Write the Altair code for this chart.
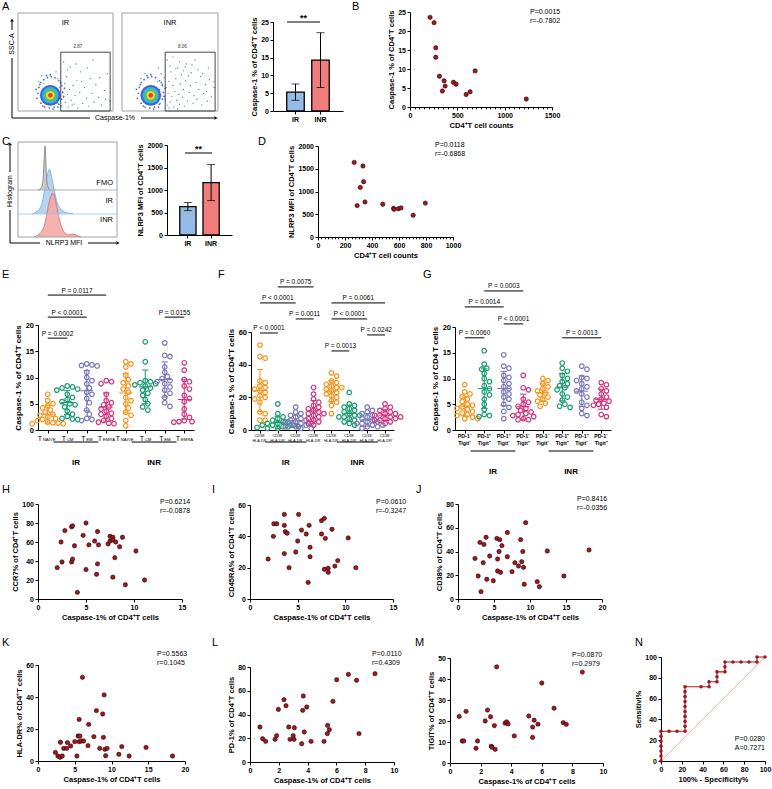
import altair as alt
import pandas as pd

W, H = 772, 789
FONT = "Liberation Sans"
BLK = "#000000"
DOT = "#A3181F"

# ---------------- values ----------------
groups = ["IR", "INR"]
bar_colors = ["#94BCE5", "#F07C7C"]
casp1_mean = [5.3, 14.3]
casp1_sd = [2.3, 7.7]
nlrp3_mean = [632, 1165]
nlrp3_sd = [90, 400]

b_cd4 = [212, 254, 272, 272, 311, 342, 360, 371, 459, 487, 593, 635, 688, 1228]
b_casp1 = [23.6, 22.2, 15.6, 13.1, 8.1, 4.2, 6.9, 5.5, 6.5, 6.0, 3.3, 4.0, 9.5, 2.1]

d_cd4 = [268, 333, 338, 313, 348, 290, 480, 560, 563, 595, 615, 705, 795]
d_nlrp3 = [1640, 1560, 1215, 1090, 770, 690, 720, 630, 610, 620, 640, 478, 745]

# flow cytometry events (box units 0-100)
ir_evt_x = [22, 25, 27, 40, 42, 44, 43, 41, 39, 46, 47, 48, 49, 50, 51, 52, 53, 54, 55, 56,
            58, 59, 60, 62, 63, 65, 66, 68, 70, 72, 74, 76, 78, 80, 82, 85, 88, 91, 94, 97,
            48, 52, 57, 61, 67, 73, 79, 86, 92]
ir_evt_y = [30, 36, 28, 40, 33, 24, 12, 8, 18, 5, 20, 14, 28, 9, 35, 17, 4, 22, 45, 11,
            26, 7, 16, 31, 3, 19, 40, 8, 24, 13, 5, 33, 18, 9, 27, 14, 6, 21, 38, 10,
            50, 42, 6, 48, 30, 44, 52, 34, 12]
inr_evt_x = [20, 24, 37, 39, 41, 43, 40, 42, 38, 44, 45, 46, 47, 48, 49, 50, 51, 52, 53, 54,
             55, 56, 57, 58, 59, 60, 61, 62, 63, 64, 65, 66, 67, 68, 70, 71, 72, 74, 75, 77,
             78, 80, 82, 83, 85, 87, 89, 91, 93, 96, 47, 50, 53, 56, 60, 64, 69, 73, 79, 84,
             90, 95, 49, 58, 66, 76, 88]
inr_evt_y = [33, 38, 30, 22, 38, 15, 8, 27, 44, 34, 12, 24, 6, 18, 30, 9, 40, 15, 26, 4,
             20, 33, 11, 44, 17, 7, 28, 37, 14, 22, 5, 31, 48, 10, 19, 26, 39, 8, 16, 29,
             12, 22, 35, 6, 18, 27, 10, 32, 15, 24, 52, 46, 55, 43, 50, 41, 36, 47, 42, 38,
             44, 30, 3, 2, 45, 52, 20]
# speckled rim of the density cloud (offsets from its centre, box units)
rim_dx = [-13, -12, -10, -7, -3, 1, 5, 9, 12, 13, 12, 9, 4, -1, -6, -10, -14, 14, -11, 11,
          -8, 8, 0, -15, 15, 3, -4]
rim_dy = [2, 8, 13, 16, 18, 19, 18, 15, 10, 3, -4, -9, -12, -13, -12, -8, -3, -1, 11, 13,
          -11, -12, 21, 6, 7, -14, 20]
blob_size = [430, 270, 150, 70, 22]
blob_color = ["#2F5BD2", "#35B6E6", "#5DC24B", "#F0E236", "#E8372A"]

# NLRP3 histogram (x = MFI position 0-99, h = relative count)
fmo_x = [20, 23, 24.5, 25.5, 26.3, 27, 27.8, 28.7, 30, 32]
fmo_h = [0, 2, 6, 18, 34, 44, 30, 10, 3, 0]
ir_h_x = [14, 18, 22, 25, 27, 29, 30.5, 31.5, 33, 35, 37, 39, 42, 45, 50, 55]
ir_h = [0, 2, 6, 15, 28, 38, 43, 45, 40, 30, 20, 12, 6, 3, 1, 0]
inr_h_x = [16, 20, 24, 27, 29, 31, 33, 34.5, 36, 38, 40, 42, 44, 46, 48, 51, 54, 57, 60, 63]
inr_h = [0, 2, 6, 14, 24, 34, 41, 44, 42, 34, 24, 15, 9, 5, 3, 2, 3, 2.5, 1, 0]

# E: T-cell subsets
e_subsets = ["NAIVE", "CM", "EM", "EMRA"]
e_values = [
    [6.8, 5.6, 5.0, 4.6, 4.2, 3.8, 3.4, 3.0, 2.8, 2.5, 2.2, 2.0, 1.8, 1.5, 1.3, 1.2, 1.2, 1.4],
    [8.4, 8.2, 8.0, 7.8, 7.6, 6.8, 6.2, 5.8, 5.4, 5.0, 4.8, 4.4, 3.6, 3.0, 2.6, 2.1, 2.0, 2.2],
    [12.6, 12.4, 12.2, 12.3, 11.0, 10.0, 9.4, 8.8, 8.0, 7.2, 6.8, 6.0, 5.2, 3.8, 3.0, 2.2, 1.8, 2.0],
    [9.4, 9.2, 8.8, 6.8, 5.6, 5.2, 4.8, 4.4, 4.0, 3.6, 3.2, 3.0, 2.6, 2.2, 1.8, 1.3, 1.2, 1.5],
    [13.0, 12.6, 12.0, 10.4, 9.6, 9.0, 8.4, 7.8, 7.2, 6.2, 5.6, 5.0, 4.2, 3.4, 2.8, 1.8, 0.8],
    [16.8, 13.0, 9.4, 9.2, 9.0, 8.8, 8.6, 8.4, 8.0, 7.6, 7.0, 6.6, 5.8, 5.0, 4.4, 3.8],
    [16.6, 14.2, 14.0, 12.0, 11.0, 10.2, 9.8, 9.4, 9.2, 8.8, 8.2, 7.6, 7.0, 6.2, 5.2, 4.5],
    [12.8, 11.4, 9.6, 9.2, 8.4, 7.8, 6.6, 6.0, 5.4, 4.0, 3.0, 2.4, 1.6, 1.5, 1.6, 1.8],
]
e_brackets = [(0, 1, "P = 0.0002", 17.5), (0, 2, "P < 0.0001", 21.5),
              (0, 3, "P = 0.0117", 25.7), (6, 7, "P = 0.0155", 21.5)]

# F: CD38 / HLA-DR subsets
f_subsets = ["CD38\u207a\nHLA-DR\u207a", "CD38\u207a\nHLA-DR\u207b",
             "CD38\u207b\nHLA-DR\u207a", "CD38\u207b\nHLA-DR\u207b"]
f_values = [
    [52, 45, 44, 30, 29, 27, 26, 25, 24, 23, 21, 20, 19, 17, 11, 10, 6, 6],
    [16, 10, 8, 7, 6, 5, 5, 4, 4, 3, 3, 3, 2, 2, 2, 1.5, 1, 1],
    [14, 11, 10, 9, 8, 7, 6, 6, 5, 5, 4, 4, 3, 3, 2, 2, 1, 1],
    [26, 22, 19, 17, 15, 14, 13, 12, 11, 10, 10, 9, 8, 7, 6, 5, 4, 3],
    [35, 33, 30, 29, 28, 27, 26, 26, 25, 24, 23, 22, 21, 20, 18, 17, 15, 10],
    [23, 16, 15, 14, 13, 12, 11, 10, 9, 9, 8, 8, 7, 6, 5, 4, 3],
    [14, 12, 11, 10, 9, 8, 7, 6, 5, 5, 4, 4, 3, 3, 2, 2, 1],
    [16, 14, 13, 12, 11, 10, 10, 9, 9, 8, 8, 7, 7, 6, 6, 5, 4],
]
f_brackets = [(0, 1, "P < 0.0001", 59.4), (0, 2, "P < 0.0001", 77.8),
              (1, 3, "P = 0.0075", 87.6), (2, 3, "P = 0.0011", 68.0),
              (4, 7, "P = 0.0061", 77.8), (4, 6, "P < 0.0001", 68.0),
              (6, 7, "P = 0.0242", 58.2), (4, 5, "P = 0.0013", 48.4)]

# G: PD-1 / TIGIT subsets
g_subsets = ["PD-1\u207b\nTigit\u207b", "PD-1\u207a\nTigit\u207a",
             "PD-1\u207a\nTigit\u207b", "PD-1\u207b\nTigit\u207a"]
g_values = [
    [8.8, 7.4, 7.0, 6.5, 6.0, 5.5, 5.0, 4.8, 4.5, 4.2, 4.0, 3.6, 3.3, 3.0, 2.8, 2.5, 2.2, 2.2],
    [15.4, 12.8, 12.0, 11.8, 11.0, 10.0, 9.4, 8.6, 8.0, 7.4, 6.8, 6.0, 5.0, 4.0, 3.0, 2.8, 2.6],
    [14.6, 12.4, 12.0, 10.6, 10.2, 9.6, 9.0, 8.4, 8.0, 7.4, 7.0, 6.4, 6.0, 5.0, 4.4, 3.6, 2.2],
    [10.6, 8.2, 7.8, 6.0, 5.4, 5.0, 4.6, 4.2, 3.8, 3.5, 3.2, 3.0, 2.8, 2.6, 2.2, 2.0, 2.0],
    [10.0, 9.6, 9.0, 8.4, 8.0, 7.6, 7.2, 6.8, 6.4, 6.0, 5.6, 5.2, 4.6],
    [13.0, 12.0, 11.4, 10.6, 10.0, 9.4, 9.0, 8.6, 8.2, 7.8, 7.0, 6.4, 5.8, 5.0, 4.6, 4.4],
    [12.4, 11.8, 10.2, 10.0, 9.6, 9.0, 8.4, 8.0, 7.6, 7.0, 6.4, 5.4, 4.8, 4.2, 3.2, 2.8],
    [9.2, 8.8, 8.0, 7.6, 7.0, 6.4, 6.0, 5.8, 5.6, 5.2, 5.0, 4.8, 4.4, 3.0, 2.6],
]
g_brackets = [(0, 1, "P = 0.0060", 17.9), (0, 2, "P = 0.0014", 23.9),
              (1, 3, "P = 0.0003", 27.0), (2, 3, "P < 0.0001", 20.6),
              (5, 7, "P = 0.0013", 17.9)]
subset_colors = ["#F7941D", "#1B9B6F", "#7A77B9", "#D1357E"] * 2

# H-M correlations
h_x = [2.0, 2.4, 2.5, 2.8, 3.5, 3.6, 3.5, 3.6, 3.8, 4.1, 4.7, 5.0, 5.0, 5.3, 5.9, 6.2, 6.3, 6.2,
       6.1, 7.3, 7.5, 7.5, 7.8, 7.8, 8.1, 8.0, 7.8, 8.5, 8.8, 9.1, 10.2, 11.1]
h_y = [33, 60, 39, 72, 76, 77, 39, 42, 56, 7, 67, 80, 31, 57, 61, 71, 57, 37,
       26, 58, 66, 61, 65, 62, 60, 43.5, 23, 55, 65, 15, 50.5, 20]
i_x = [1.9, 2.45, 2.5, 2.8, 3.6, 3.6, 3.6, 3.7, 3.9, 4.1, 5.0, 4.8, 5.1, 5.4, 5.9, 6.1, 6.2,
       6.3, 6.3, 7.5, 7.5, 7.8, 7.9, 7.8, 8.2, 8.2, 8.6, 8.9, 9.2, 10.3, 11.1]
i_y = [25.5, 40, 48, 48, 54, 47, 29, 43, 42, 20, 37, 30, 54, 44, 41.5, 10.6, 47,
       33, 27, 50, 41.5, 51.5, 38.7, 19, 19.6, 17, 44.5, 21, 24.5, 39, 20]
j_x = [2.36, 2.8, 3.05, 3.6, 3.5, 3.2, 3.9, 4.0, 4.4, 4.9, 5.4, 5.5, 5.5, 5.7, 5.8, 6.1, 5.9,
       6.85, 6.85, 7.5, 9.4, 8.7, 9.0, 7.9, 8.85, 8.4, 9.1, 9.2, 11.0, 11.3, 12.4, 14.7, 18.2]
j_y = [34.2, 19.4, 47.7, 46, 30.6, 6.2, 52, 16.6, 36.2, 15.4, 51, 33.7, 23.6, 40, 50, 45, 22.5,
       56, 35.6, 23, 64.3, 50, 40, 30.6, 31.4, 27.8, 26.7, 12.4, 14.6, 10.4, 40.4, 19.4, 41.3]
k_x = [2.36, 2.7, 3.0, 3.05, 3.3, 3.5, 3.9, 4.0, 4.45, 5.0, 5.3, 5.45, 5.6, 5.7, 5.6, 5.9, 6.05,
       6.2, 6.8, 6.9, 7.6, 7.95, 8.4, 8.8, 8.9, 9.0, 9.1, 9.2, 9.4, 11.0, 11.4, 12.4, 14.7, 18.3]
k_y = [5.4, 3.1, 2.3, 11.7, 3.1, 7.9, 7.9, 11.5, 9.4, 12.1, 3.1, 15.6, 12.1, 15.6, 26, 12.5, 52.3,
       12.5, 9.6, 22.9, 15.2, 31.5, 7.9, 29.4, 14.8, 41.3, 7.3, 3.3, 7.9, 4.2, 9.0, 3.1, 8.5, 3.1]
l_x = [0.69, 0.88, 1.09, 1.74, 1.85, 1.97, 2.36, 2.5, 2.69, 2.78, 3.0, 3.08, 3.06, 3.59, 3.66,
       3.7, 3.77, 3.94, 4.24, 5.14, 5.39, 5.37, 5.51, 5.76, 6.02, 6.83, 7.4, 7.57, 8.68]
l_y = [29.5, 19.6, 17.4, 19.1, 22.2, 44.3, 52.5, 47.4, 29.5, 19.1, 22.2, 28.9, 19.1, 15.4, 43.5,
       55.6, 25.3, 46.3, 17.4, 17.4, 30.9, 23.9, 27.2, 51.1, 69.3, 73.8, 68.8, 23.9, 74.4]
m_x = [0.6, 0.8, 0.9, 1.05, 1.7, 1.8, 2.3, 2.45, 2.65, 2.7, 2.75, 2.95, 2.9, 3.6, 3.05,
       3.7, 3.8, 4.2, 5.15, 5.4, 5.4, 5.5, 5.75, 6.0, 6.8, 7.4, 7.6, 8.65]
m_y = [22.2, 10.5, 10.5, 24.6, 7.0, 10.5, 20.0, 25.2, 22.0, 8.0, 7.5, 6.5, 17.8, 19.0, 45.8,
       19.6, 18.6, 12.9, 22.4, 17.1, 12.2, 20.4, 18.5, 38.1, 26.1, 19.2, 18.4, 43.3]

# N: ROC
n_fpr = [0, 0, 0, 0, 0, 0, 0, 7.7, 15.4, 23.1, 23.1, 23.1, 23.1, 23.1, 23.1, 23.1, 23.1, 23.1,
         23.1, 38.5, 46.2, 46.2, 53.8, 53.8, 53.8, 61.5, 61.5, 61.5, 69.2, 76.9, 84.6, 92.3,
         92.3, 100]
n_tpr = [0, 4.8, 9.5, 14.3, 19.0, 23.8, 28.6, 28.6, 28.6, 28.6, 33.3, 38.1, 42.9, 47.6, 52.4,
         57.1, 61.9, 66.7, 71.4, 71.4, 71.4, 76.2, 76.2, 81.0, 85.7, 85.7, 90.5, 95.2, 95.2,
         95.2, 95.2, 95.2, 100, 100]

# ---------------- helpers ----------------
AX = dict(domainColor=BLK, tickColor=BLK, labelColor=BLK, titleColor=BLK,
          labelFont=FONT, titleFont=FONT, labelFontWeight="bold", titleFontWeight="bold",
          labelFontSize=7, titleFontSize=7.5, tickSize=3, tickWidth=1, domainWidth=1,
          labelPadding=1.5, titlePadding=3, grid=False, labelOverlap=False,
          labelBound=False, labelFlush=False)


def xax(bottom, **kw):
    d = dict(AX)
    d.update(orient="bottom", offset=bottom - H)
    d.update(kw)
    return alt.Axis(**d)


def yax(left, **kw):
    d = dict(AX)
    d.update(orient="left", offset=-left)
    d.update(kw)
    return alt.Axis(**d)


def one():
    return pd.DataFrame({"t": [""]})


def txt(text, x, y, size=7, weight="normal", align="left", baseline="middle",
        angle=0, color=BLK, lh=None):
    kw = dict(font=FONT, fontSize=size, fontWeight=weight, align=align,
              baseline=baseline, color=color)
    if angle:
        kw["angle"] = angle
    if "\n" in text:
        kw["lineBreak"] = "\n"
        kw["lineHeight"] = lh if lh else size * 1.2
    return alt.Chart(pd.DataFrame({"t": [text]})).mark_text(**kw).encode(
        x=alt.value(x), y=alt.value(y), text="t:N")


def seg(x1, y1, x2, y2, color=BLK, w=1.0):
    return alt.Chart(one()).mark_rule(color=color, strokeWidth=w).encode(
        x=alt.value(x1), y=alt.value(y1), x2=alt.value(x2), y2=alt.value(y2))


def arrow(x, y, shape):
    return alt.Chart(one()).mark_point(shape=shape, filled=True, size=14, color=BLK,
                                       opacity=1).encode(x=alt.value(x), y=alt.value(y))


def lin(dom, rng):
    return alt.Scale(domain=dom, range=rng, nice=False, zero=False)


def scatter(xv, yv, xr, yr, xdom, ydom, xt, yt, xtitle, ytitle, stat, sx, sy,
            minor=None, align="left", fmt=None):
    xs = lin(xdom, list(xr))
    ys = lin(ydom, [yr[1], yr[0]])
    fx = dict(format=fmt) if fmt else {}
    pts = alt.Chart(pd.DataFrame({"x": xv, "y": yv})).mark_circle(
        size=19, color=DOT, stroke=BLK, strokeWidth=0.5, opacity=1).encode(
        x=alt.X("x:Q", scale=xs, axis=xax(yr[1], values=xt, title=xtitle, **fx)),
        y=alt.Y("y:Q", scale=ys, axis=yax(xr[0], values=yt, title=ytitle, titlePadding=2,
                                           **fx)))
    out = [pts, txt(stat, sx, sy, size=7, baseline="top", align=align, lh=8.5)]
    if minor:
        out.append(alt.Chart(pd.DataFrame({"x": [xdom[0]]})).mark_point(opacity=0).encode(
            x=alt.X("x:Q", scale=xs, axis=xax(yr[1], values=minor, labels=False,
                                               domain=False, tickSize=1.8, title=""))))
    return out


def bar_panel(means, sds, xr, yr, ydom, yt, ytitle, sig_val, sig_x):
    df = pd.DataFrame({"g": groups, "m": means,
                       "lo": [m - s for m, s in zip(means, sds)],
                       "hi": [m + s for m, s in zip(means, sds)]})
    xs = alt.Scale(domain=groups, range=list(xr), paddingInner=0.3, paddingOuter=0.55)
    ys = lin(ydom, [yr[1], yr[0]])
    cs = alt.Scale(domain=groups, range=bar_colors)
    base = alt.Chart(df)
    bars = base.mark_bar(stroke=BLK, strokeWidth=1.3).encode(
        x=alt.X("g:N", scale=xs, sort=groups,
                axis=xax(yr[1], labelAngle=0, title="", labelPadding=1)),
        y=alt.Y("m:Q", scale=ys, axis=yax(xr[0], values=yt, title=ytitle, titlePadding=2,
                                           format="d")),
        color=alt.Color("g:N", scale=cs, legend=None))
    X = alt.X("g:N", scale=xs, sort=groups, axis=None)
    err = base.mark_rule(color=BLK, strokeWidth=1).encode(
        x=X, y=alt.Y("lo:Q", scale=ys, axis=None), y2="hi:Q")
    cap1 = base.mark_tick(color=BLK, thickness=1, size=8).encode(
        x=X, y=alt.Y("lo:Q", scale=ys, axis=None))
    cap2 = base.mark_tick(color=BLK, thickness=1, size=8).encode(
        x=X, y=alt.Y("hi:Q", scale=ys, axis=None))
    sdf = pd.DataFrame({"v": [sig_val], "t": ["**"]})
    sig = alt.Chart(sdf).mark_rule(color=BLK, strokeWidth=1).encode(
        x=alt.value(sig_x[0]), x2=alt.value(sig_x[1]), y=alt.Y("v:Q", scale=ys, axis=None))
    star = alt.Chart(sdf).mark_text(
        font=FONT, fontSize=9, fontWeight="bold", baseline="bottom", dy=1).encode(
        x=alt.value((sig_x[0] + sig_x[1]) / 2), y=alt.Y("v:Q", scale=ys, axis=None),
        text="t:N")
    return [bars, err, cap1, cap2, sig, star]


def swarm(vals, ppu, d):
    placed = []
    res = [0.0] * len(vals)
    for i in sorted(range(len(vals)), key=lambda k: -vals[k]):
        yp = vals[i] * ppu
        k = 0
        while True:
            m = (k + 1) // 2
            c = m * d * 0.5 * (1 if k % 2 else -1)
            if all((c - px) ** 2 + (yp - py) ** 2 >= (d * 0.9) ** 2 for px, py in placed):
                break
            k += 1
        placed.append((c, yp))
        res[i] = c
    return res


def dot_panel(values, xr, yr, ydom, yt, ytitle, brackets, labels, kind, grp_y,
              grp_lines, label_y):
    n = len(values)
    step = (xr[1] - xr[0]) / n
    ppu = (yr[1] - yr[0]) / (ydom[1] - ydom[0])
    rows, stats = [], []
    for i, vals in enumerate(values):
        offs = swarm(vals, ppu, 5.2)
        for v, o in zip(vals, offs):
            rows.append({"c": str(i), "xj": i + o / step, "v": v})
        s = pd.Series(vals)
        m, sd = float(s.mean()), float(s.std())
        stats.append({"c": str(i), "i": i, "m": m, "lo": m - sd, "hi": m + sd,
                      "ml": i - 0.33, "mr": i + 0.33, "cl": i - 0.17, "cr": i + 0.17})
    df, sdf = pd.DataFrame(rows), pd.DataFrame(stats)
    xs = lin([-0.5, n - 0.5], list(xr))
    ys = lin(ydom, [yr[1], yr[0]])
    cs = alt.Scale(domain=[str(i) for i in range(n)], range=subset_colors[:n])
    col = alt.Color("c:N", scale=cs, legend=None)

    def X(f):
        return alt.X(f, scale=xs, axis=None)

    def Y(f):
        return alt.Y(f, scale=ys, axis=None)

    pts = alt.Chart(df).mark_point(filled=False, size=21, strokeWidth=1.2, opacity=1).encode(
        x=alt.X("xj:Q", scale=xs, axis=xax(yr[1], values=list(range(n)), labels=False,
                                            title="")),
        y=alt.Y("v:Q", scale=ys, axis=yax(xr[0], values=yt, title=ytitle,
                                           titleFontSize=8, labelFontSize=7.5,
                                           titlePadding=3)),
        color=col)
    st = alt.Chart(sdf)
    out = [pts,
           st.mark_rule(strokeWidth=1.1).encode(x=X("ml:Q"), x2="mr:Q", y=Y("m:Q"), color=col),
           st.mark_rule(strokeWidth=1).encode(x=X("i:Q"), y=Y("lo:Q"), y2="hi:Q", color=col),
           st.mark_rule(strokeWidth=1).encode(x=X("cl:Q"), x2="cr:Q", y=Y("lo:Q"), color=col),
           st.mark_rule(strokeWidth=1).encode(x=X("cl:Q"), x2="cr:Q", y=Y("hi:Q"), color=col)]
    bdf = pd.DataFrame([{"a": a, "b": b, "mid": (a + b) / 2, "t": t, "lev": lev}
                        for a, b, t, lev in brackets])
    br = alt.Chart(bdf)
    out.append(br.mark_rule(color=BLK, strokeWidth=1).encode(
        x=X("a:Q"), x2="b:Q", y=Y("lev:Q")))
    out.append(br.mark_text(font=FONT, fontSize=6.5, baseline="bottom", dy=-1.5,
                            color=BLK).encode(x=X("mid:Q"), y=Y("lev:Q"), text="t:N"))
    labs = labels * 2
    if kind == "T":
        trow = []
        for i, sub in enumerate(labs):
            subw = 3.0 * len(sub)
            total = 4.4 + 0.6 + subw
            start = -total / 2
            trow.append({"tx": i + start / step, "sx": i + (start + 5.0) / step,
                         "T": "T", "sub": sub})
        tdf = pd.DataFrame(trow)
        out.append(alt.Chart(tdf).mark_text(font=FONT, fontSize=7, align="left",
                                            baseline="top", color=BLK).encode(
            x=X("tx:Q"), y=alt.value(label_y), text="T:N"))
        out.append(alt.Chart(tdf).mark_text(font=FONT, fontSize=4.3, align="left",
                                            baseline="top", color=BLK).encode(
            x=X("sx:Q"), y=alt.value(label_y + 3), text="sub:N"))
    else:
        fs = 3.8 if kind == "F" else 5.3
        ldf = pd.DataFrame({"i": list(range(n)), "t": labs})
        out.append(alt.Chart(ldf).mark_text(
            font=FONT, fontSize=fs, fontWeight="bold" if kind == "G" else "normal",
            align="center", baseline="top", lineBreak="\n", lineHeight=fs * 1.35,
            color=BLK).encode(x=X("i:Q"), y=alt.value(label_y), text="t:N"))
    gdf = pd.DataFrame([{"a": a, "b": b, "mid": (a + b) / 2, "t": t}
                        for a, b, t in grp_lines])
    out.append(alt.Chart(gdf).mark_rule(color=BLK, strokeWidth=1).encode(
        x=X("a:Q"), x2="b:Q", y=alt.value(grp_y)))
    out.append(alt.Chart(gdf).mark_text(font=FONT, fontSize=8, fontWeight="bold",
                                        baseline="middle", color=BLK).encode(
        x=X("mid:Q"), y=alt.value(grp_y + 21), text="t:N"))
    return out


def flow_box(x0, x1, y0, y1, ex, ey, cx, pct, title):
    xs = lin([0, 100], [x0, x1])
    ys = lin([0, 100], [y1, y0])

    def X(f):
        return alt.X(f, scale=xs, axis=None)

    def Y(f):
        return alt.Y(f, scale=ys, axis=None)

    frame = alt.Chart(pd.DataFrame({"a": [0], "b": [100]})).mark_rect(
        fill="white", fillOpacity=0, stroke="#A0A0A0", strokeWidth=1).encode(
        x=X("a:Q"), x2="b:Q", y=Y("a:Q"), y2="b:Q")
    bdf = pd.DataFrame({"x": [cx] * len(blob_size), "y": [16] * len(blob_size),
                        "s": blob_size, "c": blob_color})
    blob = alt.Chart(bdf).mark_circle(opacity=0.95).encode(
        x=X("x:Q"), y=Y("y:Q"),
        size=alt.Size("s:Q", scale=None), color=alt.Color("c:N", scale=None))
    rim = alt.Chart(pd.DataFrame({"x": [cx + d for d in rim_dx],
                                  "y": [16 + d for d in rim_dy]})).mark_circle(
        size=3, color="#2F5BD2", opacity=0.9).encode(x=X("x:Q"), y=Y("y:Q"))
    ev = alt.Chart(pd.DataFrame({"x": ex, "y": ey})).mark_circle(
        size=1.8, color="#3A6FD8", opacity=0.9).encode(x=X("x:Q"), y=Y("y:Q"))
    gate = alt.Chart(pd.DataFrame({"a": [45], "b": [97], "c": [0], "d": [60]})).mark_rect(
        fill="white", fillOpacity=0, stroke="#333333", strokeWidth=0.9).encode(
        x=X("a:Q"), x2="b:Q", y=Y("c:Q"), y2="d:Q")
    lab = alt.Chart(pd.DataFrame({"t": [pct], "x": [63], "y": [65]})).mark_text(
        font=FONT, fontSize=4.5, color="#333333").encode(x=X("x:Q"), y=Y("y:Q"), text="t:N")
    ttl = alt.Chart(pd.DataFrame({"t": [title], "x": [50], "y": [90]})).mark_text(
        font=FONT, fontSize=7.5, color=BLK).encode(x=X("x:Q"), y=Y("y:Q"), text="t:N")
    return [frame, ev, rim, blob, gate, lab, ttl]


def hist_lane(xv, hv, base, fill, stroke):
    xs = lin([0, 99], [18, 117])
    ys = lin([0, 50], [base, base - 50])
    return alt.Chart(pd.DataFrame({"x": xv, "h": hv})).mark_area(
        color=fill, opacity=0.85, interpolate="monotone",
        line={"color": stroke, "strokeWidth": 0.8}).encode(
        x=alt.X("x:Q", scale=xs, axis=None), y=alt.Y("h:Q", scale=ys, axis=None))


# ---------------- assemble ----------------
layers = []
CT = "CD4\u207aT cells"

# --- A ---
layers += flow_box(18, 113, 13, 111, ir_evt_x, ir_evt_y, 34, "2.87", "IR")
layers += flow_box(122, 218, 13, 111, inr_evt_x, inr_evt_y, 30, "8.06", "INR")
layers += [seg(12, 21, 12, 30), seg(12, 58, 12, 118), arrow(12, 20, "triangle-up"),
           txt("SSC-A", 12, 44, size=7, align="center", angle=270),
           seg(12, 118, 90, 118), seg(141, 118, 214, 118), arrow(216, 118, "triangle-right"),
           txt("Caspase-1%", 115, 118, size=7, align="center")]
layers += bar_panel(casp1_mean, casp1_sd, (273, 343), (22, 111), [0, 25],
                    [0, 5, 10, 15, 20, 25], "Caspase-1 % of " + CT, 25, (287, 320))

# --- B ---
layers += scatter(b_cd4, b_casp1, (410, 552), (12, 107), [0, 1500], [0, 25],
                  [0, 500, 1000, 1500], [0, 5, 10, 15, 20, 25], "CD4\u207aT cell counts",
                  "Caspase-1 % of " + CT, "P=0.0015\nr=-0.7802", 530, 8,
                  minor=list(range(0, 1501, 50)), fmt="d")

# --- C ---
layers += [hist_lane(ir_h_x, ir_h, 214, "#A9CCEE", "#6FA8DC"),
           hist_lane(fmo_x, fmo_h, 190, "#C4C4C4", "#7A7A7A"),
           hist_lane(inr_h_x, inr_h, 237, "#F4A3A3", "#E06666"),
           seg(18, 190, 117, 190, "#A0A0A0", 0.8), seg(18, 214, 117, 214, "#9CC2EA", 0.8)]
layers += [alt.Chart(pd.DataFrame({"a": [0], "b": [99]})).mark_rect(
    fill="white", fillOpacity=0, stroke="#A0A0A0", strokeWidth=1).encode(
    x=alt.X("a:Q", scale=lin([0, 99], [18, 117]), axis=None), x2="b:Q",
    y=alt.Y("a:Q", scale=lin([0, 99], [237, 142]), axis=None), y2="b:Q")]
layers += [txt("FMO", 113, 183, size=7.5, align="right"),
           txt("IR", 113, 201, size=7.5, align="right"),
           txt("INR", 113, 220, size=7.5, align="right"),
           seg(10, 146, 10, 172), seg(10, 210, 10, 243), arrow(10, 144, "triangle-up"),
           txt("Histogram", 10, 191, size=7, align="center", angle=270),
           seg(10, 243, 40, 243), seg(88, 243, 116, 243), arrow(118, 243, "triangle-right"),
           txt("NLRP3 MFI", 64, 243, size=7, align="center")]
layers += bar_panel(nlrp3_mean, nlrp3_sd, (167, 232), (145, 235), [0, 2000],
                    [0, 500, 1000, 1500, 2000], "NLRP3 MFI of " + CT, 1822, (185, 212))

# --- D ---
layers += scatter(d_cd4, d_nlrp3, (318, 453), (146, 237), [0, 1000], [0, 2000],
                  [0, 200, 400, 600, 800, 1000], [0, 500, 1000, 1500, 2000],
                  "CD4\u207aT cell counts", "NLRP3 MFI of " + CT, "P=0.0118\nr=-0.6868",
                  435, 141, minor=list(range(0, 1001, 25)), fmt="d")

# --- E, F, G ---
grp = [(0.3, 2.6, "IR"), (4.3, 6.6, "INR")]
layers += dot_panel(e_values, (38, 194), (325, 430), [0, 20], [0, 5, 10, 15, 20],
                    "Caspase-1 % of " + CT, e_brackets, e_subsets, "T", 442, grp, 435)
layers += dot_panel(f_values, (251, 394), (332, 430), [0, 60], [0, 20, 40, 60],
                    "Caspase-1 % of " + CT, f_brackets, f_subsets, "F", 442, grp, 434)
layers += dot_panel(g_values, (455, 611), (327, 430), [0, 20], [0, 5, 10, 15, 20],
                    "Caspase-1 % of CD4 T cells", g_brackets, g_subsets, "G", 451, grp, 434)

# --- H, I, J ---
XT = "Caspase-1% of " + CT
layers += scatter(h_x, h_y, (38, 182), (504, 599), [0, 15], [0, 100], [0, 5, 10, 15],
                  [0, 20, 40, 60, 80, 100], XT, "CCR7% of " + CT, "P=0.6214\nr=-0.0878",
                  160, 498)
layers += scatter(i_x, i_y, (250, 393), (505, 599), [0, 15], [0, 60], [0, 5, 10, 15],
                  [0, 20, 40, 60], XT, "CD45RA% of " + CT, "P=0.0610\nr=-0.3247", 376, 498)
layers += scatter(j_x, j_y, (458, 602), (504, 599), [0, 20], [0, 80], [0, 5, 10, 15, 20],
                  [0, 20, 40, 60, 80], XT, "CD38% of " + CT, "P=0.8416\nr=-0.0356", 577, 495)

# --- K, L, M ---
layers += scatter(k_x, k_y, (38, 185), (665, 761), [0, 20], [0, 60], [0, 5, 10, 15, 20],
                  [0, 20, 40, 60], XT, "HLA-DR% of " + CT, "P=0.5563\nr=0.1045", 157, 650)
layers += scatter(l_x, l_y, (250, 394), (667, 762), [0, 10], [0, 80], [0, 2, 4, 6, 8, 10],
                  [0, 20, 40, 60, 80], XT, "PD-1% of " + CT, "P=0.0110\nr=0.4309", 372, 650)
layers += scatter(m_x, m_y, (450, 603), (658, 763), [0, 10], [0, 50], [0, 2, 4, 6, 8, 10],
                  [0, 10, 20, 30, 40, 50], XT, "TIGIT% of " + CT, "P=0.0870\nr=0.2979",
                  572, 651)

# --- N ---
nxs = lin([0, 100], [661, 765])
nys = lin([0, 100], [761, 657])
roc = pd.DataFrame({"f": n_fpr, "s": n_tpr, "o": list(range(len(n_fpr)))})
diag = alt.Chart(pd.DataFrame({"d": [0, 100]})).mark_line(color="#F29C9C", strokeWidth=0.8).encode(
    x=alt.X("d:Q", scale=nxs, axis=xax(761, values=[0, 20, 40, 60, 80, 100],
                                       title="100% - Specificity%")),
    y=alt.Y("d:Q", scale=nys, axis=yax(661, values=[0, 20, 40, 60, 80, 100],
                                       title="Sensitivi%", titlePadding=2)))
roc_l = alt.Chart(roc).mark_line(color="#A3181F", strokeWidth=1.1).encode(
    x=alt.X("f:Q", scale=nxs, axis=None), y=alt.Y("s:Q", scale=nys, axis=None), order="o:Q")
roc_p = alt.Chart(roc).mark_circle(color="#A3181F", size=13, opacity=1).encode(
    x=alt.X("f:Q", scale=nxs, axis=None), y=alt.Y("s:Q", scale=nys, axis=None))
layers += [diag, roc_l, roc_p,
           txt("P=0.0280\nA=0.7271", 765, 735, size=7, align="right", baseline="top", lh=9)]

# --- panel letters ---
for t, x, y in [("A", 2, 1), ("B", 352, 1), ("C", 2, 136), ("D", 258, 136), ("E", 2, 269),
                ("F", 218, 269), ("G", 423, 269), ("H", 2, 484), ("I", 212, 484),
                ("J", 416, 484), ("K", 2, 637), ("L", 212, 637), ("M", 415, 637),
                ("N", 635, 637)]:
    layers.append(txt(t, x, y, size=11, baseline="top"))

chart = alt.layer(*layers).properties(
    width=W, height=H, padding=0, autosize=alt.AutoSizeParams(type="none")
).resolve_scale(x="independent", y="independent", color="independent"
).resolve_axis(x="independent", y="independent").configure_view(stroke=None)

chart.save("out.html", embed_options={"renderer": "svg", "actions": False})
